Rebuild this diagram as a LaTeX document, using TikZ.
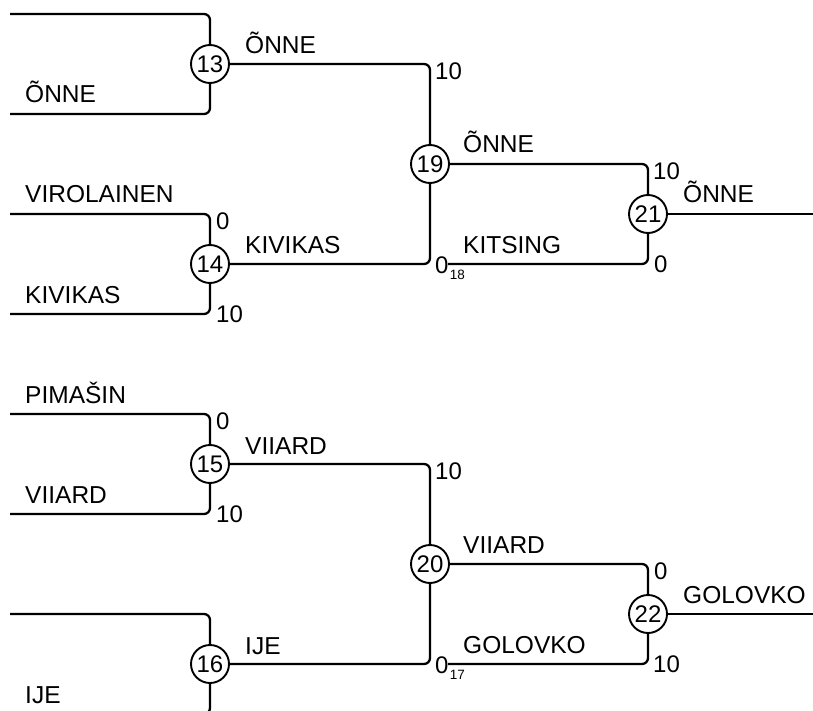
\documentclass[tikz,border=0pt]{standalone}
\usepackage{fontspec}
\setmainfont{Liberation Sans}
\begin{document}
\begin{tikzpicture}[x=1pt,y=-1pt,
  wire/.style={line width=2.3pt,rounded corners=6pt},
  match/.style={circle,draw,line width=1.9pt,minimum size=38pt,inner sep=0pt,fill=white,font=\fontsize{24}{24}\selectfont},
  player/.style={anchor=base west,inner sep=0pt,font=\fontsize{24.5}{25}\selectfont},
  scoreup/.style={anchor=north west,inner sep=0pt,font=\fontsize{24}{24}\selectfont},
  scoredn/.style={anchor=west,inner sep=0pt,font=\fontsize{24}{24}\selectfont},
  subsc/.style={anchor=north west,inner sep=0pt,font=\fontsize{13.5}{14}\selectfont}]
\useasboundingbox (0,0) rectangle (813,711);
\clip (0,0) rectangle (813,711);
% match nodes
\node[match] (m13) at (210,64) {13};
\node[match] (m14) at (210,264) {14};
\node[match] (m15) at (210,464) {15};
\node[match] (m16) at (210,664) {16};
\node[match] (m19) at (430,164) {19};
\node[match] (m20) at (430,564) {20};
\node[match] (m21) at (648,214) {21};
\node[match] (m22) at (648,614) {22};
% free ends
\coordinate (a13t) at (10,14);  \coordinate (a13b) at (10,114);
\coordinate (a14t) at (10,214); \coordinate (a14b) at (10,314);
\coordinate (a15t) at (10,414); \coordinate (a15b) at (10,514);
\coordinate (a16t) at (10,614); \coordinate (a16b) at (10,714);
\coordinate (b18) at (448,264); \coordinate (b17) at (448,664);
\coordinate (o21) at (813,214); \coordinate (o22) at (813,614);
% round 1 inputs
\foreach \m in {13,14,15,16}{
  \draw[wire] (a\m t) -| (m\m.north);
  \draw[wire] (a\m b) -| (m\m.south);
}
% round 2 inputs
\draw[wire] (m13.east) -| (m19.north);
\draw[wire] (m14.east) -| (m19.south);
\draw[wire] (m15.east) -| (m20.north);
\draw[wire] (m16.east) -| (m20.south);
% round 3 inputs
\draw[wire] (m19.east) -| (m21.north);
\draw[wire] (b18) -| (m21.south);
\draw[wire] (m20.east) -| (m22.north);
\draw[wire] (b17) -| (m22.south);
% outputs
\draw[wire] (m21.east) -- (o21);
\draw[wire] (m22.east) -- (o22);
% player names, round 1
\node[player] (p1) at (25,103) {ÕNNE};
\node[player] (p2) at (25,203) {VIROLAINEN};
\node[player] (p3) at (25,303) {KIVIKAS};
\node[player] (p4) at (25,403) {PIMAŠIN};
\node[player] (p5) at (25,503) {VIIARD};
\node[player] (p6) at (25,703) {IJE};
% winners round 1
\node[player] (w13) at (245,54) {ÕNNE};
\node[player] (w14) at (245,254) {KIVIKAS};
\node[player] (w15) at (245,454) {VIIARD};
\node[player] (w16) at (245,654) {IJE};
% round 2
\node[player] (w19) at (463,153) {ÕNNE};
\node[player] (k18) at (463,253) {KITSING};
\node[player] (w20) at (463,553) {VIIARD};
\node[player] (g17) at (463,653) {GOLOVKO};
% round 3
\node[player] (w21) at (683,203) {ÕNNE};
\node[player] (w22) at (683,603) {GOLOVKO};
% scores
\node[scoreup] (s14a) at (216,213) {0};
\node[scoredn] (s14b) at (216,314) {10};
\node[scoreup] (s15a) at (216,413) {0};
\node[scoredn] (s15b) at (216,514) {10};
\node[scoreup] (s19a) at (435,63) {10};
\node[scoredn] (s19b) at (435,265) {0};
\node[subsc] at ([xshift=1pt,yshift=4pt]s19b.south east) {18};
\node[scoreup] (s20a) at (435,463) {10};
\node[scoredn] (s20b) at (435,665) {0};
\node[subsc] at ([xshift=1pt,yshift=4pt]s20b.south east) {17};
\node[scoreup] (s21a) at (653,163) {10};
\node[scoredn] (s21b) at (654,264) {0};
\node[scoreup] (s22a) at (654,563) {0};
\node[scoredn] (s22b) at (653,664) {10};
\end{tikzpicture}
\end{document}
